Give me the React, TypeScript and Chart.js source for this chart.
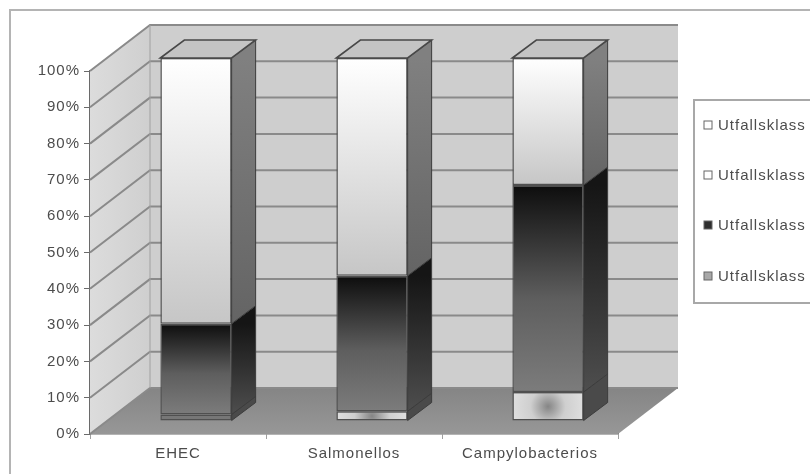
import React, { useEffect, useRef } from "react";
import { Chart, registerables } from "chart.js";

Chart.register(...registerables);

const categories = ["EHEC", "Salmonellos", "Campylobacterios"];
const seriesLabels = ["Utfallsklass", "Utfallsklass", "Utfallsklass", "Utfallsklass"];
const classA = [1.8, 2.7, 8];
const classB = [25, 37.3, 57];
const classC = [73.2, 60, 35];
const classD = [0, 0, 0];
const seriesValues = [classA, classB, classC, classD];
const legendSwatches = ["#a8a8a8", "#2e2e2e", "#ffffff", "#ffffff"];

const FONT = { family: '"Liberation Sans", Arial, sans-serif', size: 15 };
const TEXT = "#4c4c4c";

// Oblique projection used for the walls, the floor and the column sides.
const WALL_DX = 60;
const WALL_DY = 46;
const BAR_SHIFT_X = 18;
const BAR_SHIFT_Y = 13;
const SIDE_DX = 24;
const SIDE_DY = 18;

const LEGEND_X = 694;
const LEGEND_TOP = 100;
const LEGEND_BOTTOM = 303;
const LEGEND_ROWS = [125, 175, 225, 276];

function stackStart(series: number, index: number) {
  let total = 0;
  for (let s = 0; s < series; s++) total += seriesValues[s][index];
  return total;
}

function faceFill(c: any) {
  if (c.type !== "data") return "#999999";
  const { chart, datasetIndex: s, dataIndex: i } = c;
  const y = chart.scales.y;
  const x = chart.scales.x;
  const g = chart.ctx;
  const low = stackStart(s, i);
  const yBase = y.getPixelForValue(low);
  const yTop = y.getPixelForValue(low + seriesValues[s][i]);
  const cx = x.getPixelForValue(i);
  if (![yBase, yTop, cx].every(Number.isFinite)) return "#999999";
  if (s === 0) {
    // A very thin slice keeps only the darker middle tone of the shading
    if (yBase - yTop < 8) return "#777777";
    const cy = (yBase + yTop) / 2;
    const radial = g.createRadialGradient(cx, cy, 0, cx, cy, 35);
    radial.addColorStop(0, "#858585");
    radial.addColorStop(0.5, "#cfcfcf");
    radial.addColorStop(1, "#dedede");
    return radial;
  }
  const linear = g.createLinearGradient(0, yTop, 0, yBase);
  if (s === 1) {
    linear.addColorStop(0, "#0d0d0d");
    linear.addColorStop(0.55, "#5e5e5e");
    linear.addColorStop(1, "#7c7c7c");
  } else {
    linear.addColorStop(0, "#ffffff");
    linear.addColorStop(1, "#c6c6c6");
  }
  return linear;
}

function sideFill(g: CanvasRenderingContext2D, s: number, yTop: number, yBase: number) {
  const linear = g.createLinearGradient(0, yTop, 0, yBase);
  if (s === 0) {
    linear.addColorStop(0, "#4a4a4a");
    linear.addColorStop(1, "#4a4a4a");
  } else if (s === 1) {
    linear.addColorStop(0, "#151515");
    linear.addColorStop(1, "#4e4e4e");
  } else {
    linear.addColorStop(0, "#808080");
    linear.addColorStop(1, "#646464");
  }
  return linear;
}

function polygon(g: CanvasRenderingContext2D, pts: number[][]) {
  g.beginPath();
  pts.forEach(([px, py], k) => (k ? g.lineTo(px, py) : g.moveTo(px, py)));
  g.closePath();
}

const room = {
  id: "room",
  beforeDraw(chart: any) {
    const g: CanvasRenderingContext2D = chart.ctx;
    (g as any).letterSpacing = "1px";
    g.save();
    g.strokeStyle = "#b4b4b4";
    g.lineWidth = 2;
    g.strokeRect(10, 10, chart.width + 20, chart.height + 20);
    g.restore();
  },
  beforeDatasetsDraw(chart: any) {
    const g: CanvasRenderingContext2D = chart.ctx;
    const { left, right, top, bottom } = chart.chartArea;
    g.save();

    // Side wall
    const wall = g.createLinearGradient(left, 0, left + WALL_DX, 0);
    wall.addColorStop(0, "#dcdcdc");
    wall.addColorStop(1, "#cfcfcf");
    polygon(g, [[left, bottom], [left, top], [left + WALL_DX, top - WALL_DY], [left + WALL_DX, bottom - WALL_DY]]);
    g.fillStyle = wall;
    g.fill();

    // Back wall
    g.fillStyle = "#cecece";
    g.fillRect(left + WALL_DX, top - WALL_DY, right - left, bottom - top);

    // Floor
    const floor = g.createLinearGradient(0, bottom - WALL_DY, 0, bottom);
    floor.addColorStop(0, "#858585");
    floor.addColorStop(1, "#979797");
    polygon(g, [[left, bottom], [left + WALL_DX, bottom - WALL_DY], [right + WALL_DX, bottom - WALL_DY], [right, bottom]]);
    g.fillStyle = floor;
    g.fill();

    // Grid lines run along the side wall and across the back wall
    g.strokeStyle = "#8a8a8a";
    g.lineWidth = 2;
    chart.scales.y.ticks.forEach((t: any) => {
      const py = chart.scales.y.getPixelForValue(t.value);
      g.beginPath();
      g.moveTo(left, py);
      g.lineTo(left + WALL_DX, py - WALL_DY);
      g.lineTo(right + WALL_DX, py - WALL_DY);
      g.stroke();
    });
    g.strokeStyle = "#a0a0a0";
    g.lineWidth = 1;
    g.beginPath();
    g.moveTo(left + WALL_DX, top - WALL_DY);
    g.lineTo(left + WALL_DX, bottom - WALL_DY);
    g.stroke();
    g.restore();

    // Columns stand a little behind the front edge of the floor
    g.save();
    g.translate(BAR_SHIFT_X, -BAR_SHIFT_Y);
  },
  afterDatasetsDraw(chart: any) {
    const g: CanvasRenderingContext2D = chart.ctx;
    g.lineWidth = 1;
    g.strokeStyle = "#3c3c3c";
    chart.data.datasets.forEach((_: any, s: number) => {
      chart.getDatasetMeta(s).data.forEach((bar: any) => {
        if (Math.abs(bar.base - bar.y) < 0.01) return;
        const xr = bar.x + bar.width / 2;
        polygon(g, [[xr, bar.base], [xr + SIDE_DX, bar.base - SIDE_DY], [xr + SIDE_DX, bar.y - SIDE_DY], [xr, bar.y]]);
        g.fillStyle = sideFill(g, s, bar.y, bar.base);
        g.fill();
        g.stroke();
      });
    });
    const last = chart.data.datasets.length - 1;
    chart.getDatasetMeta(last).data.forEach((bar: any) => {
      const xl = bar.x - bar.width / 2;
      const xr = bar.x + bar.width / 2;
      polygon(g, [[xl, bar.y], [xl + SIDE_DX, bar.y - SIDE_DY], [xr + SIDE_DX, bar.y - SIDE_DY], [xr, bar.y]]);
      g.fillStyle = "#c4c4c4";
      g.fill();
      g.strokeStyle = "#484848";
      g.lineWidth = 1.6;
      g.stroke();
    });
    g.restore();
  },
  afterDraw(chart: any) {
    const g: CanvasRenderingContext2D = chart.ctx;
    g.save();
    g.strokeStyle = "#a8a8a8";
    g.lineWidth = 2;
    g.strokeRect(LEGEND_X, LEGEND_TOP, chart.width, LEGEND_BOTTOM - LEGEND_TOP);
    g.font = `${FONT.size}px ${FONT.family}`;
    g.textBaseline = "middle";
    g.textAlign = "left";
    const labels = chart.data.datasets.map((d: any) => d.label).reverse();
    const swatches = [...legendSwatches].reverse();
    labels.forEach((label: string, k: number) => {
      const row = LEGEND_ROWS[k];
      g.fillStyle = swatches[k];
      g.fillRect(704, row - 4, 8, 8);
      g.strokeStyle = "#666666";
      g.lineWidth = 1;
      g.strokeRect(704, row - 4, 8, 8);
      g.fillStyle = TEXT;
      g.fillText(label, 718, row + 1);
    });
    g.restore();
  },
};

export default function App() {
  const ref = useRef<HTMLCanvasElement>(null);

  useEffect(() => {
    const chart = new Chart(ref.current!, {
      type: "bar",
      plugins: [room],
      data: {
        labels: categories,
        datasets: seriesValues.map((values, s) => ({
          label: seriesLabels[s],
          data: values,
          backgroundColor: faceFill,
          borderColor: "#505050",
          borderWidth: 1.5,
          borderSkipped: false,
          clip: false,
          barPercentage: 0.405,
          categoryPercentage: 1,
        })),
      } as any,
      options: {
        responsive: false,
        animation: false,
        layout: { padding: { left: 30, top: 71, right: 192, bottom: 10 } },
        plugins: { legend: { display: false }, tooltip: { enabled: false } },
        scales: {
          x: {
            stacked: true,
            afterFit: (s: any) => { s.height = 30; },
            grid: { drawOnChartArea: false, tickLength: 5, color: "#a0a0a0", offset: true },
            border: { color: "#6a6a6a", width: 1.5 },
            ticks: { font: FONT, color: TEXT, padding: 6, maxRotation: 0 },
          },
          y: {
            stacked: true,
            min: 0,
            max: 100,
            afterFit: (s: any) => { s.width = 60; },
            grid: { drawOnChartArea: false, tickLength: 6, color: "#6a6a6a" },
            border: { color: "#6a6a6a", width: 1.5 },
            ticks: { stepSize: 10, font: FONT, color: TEXT, padding: 4, callback: (v: any) => `${v}%` },
          },
        },
      } as any,
    });
    return () => chart.destroy();
  }, []);

  return (
    <div style={{ position: "fixed", left: 0, top: 0 }}>
      <canvas ref={ref} width={810} height={474} style={{ display: "block" }} />
    </div>
  );
}
